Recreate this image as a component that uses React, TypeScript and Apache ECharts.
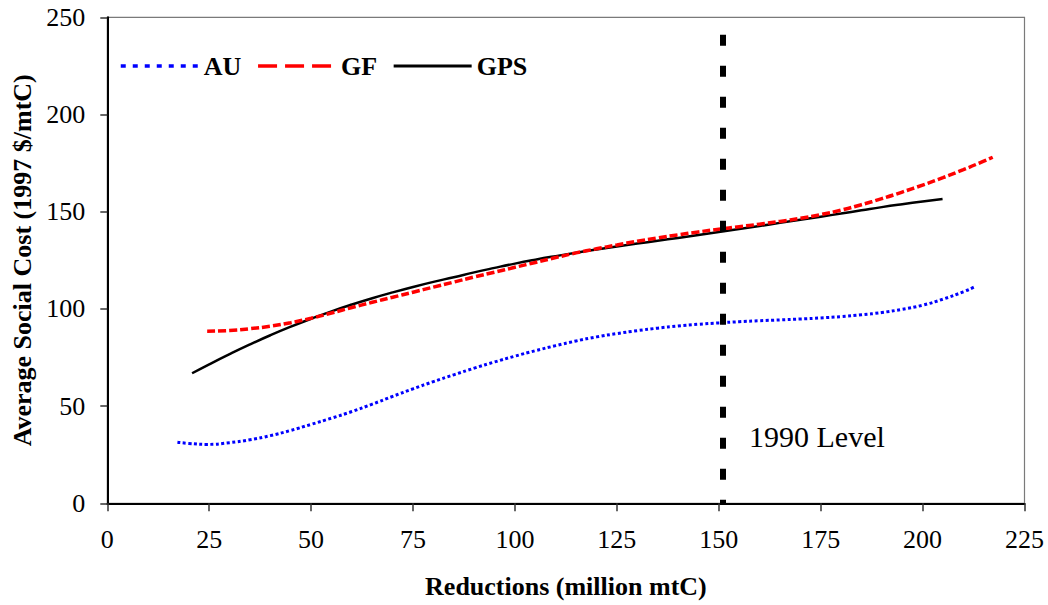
import React, { useEffect, useRef } from "react";
import * as echarts from "echarts";

const FONT = "'Liberation Serif', 'Times New Roman', serif";

const auX = [17.2, 20, 24.4, 30, 35, 40, 45, 50, 55, 60, 65, 70, 75, 80, 85, 90, 95, 100, 105, 110, 115, 120, 125, 130, 135, 140, 145, 150, 155, 160, 165, 170, 175, 180, 185, 190, 195, 200, 205, 210, 212.6];
const auY = [31.4, 30.8, 30.3, 31.2, 32.7, 34.8, 37.5, 40.6, 43.8, 47.2, 51.0, 55.0, 58.9, 62.6, 66.1, 69.5, 72.7, 75.7, 78.5, 81.1, 83.5, 85.6, 87.3, 88.8, 90.1, 91.2, 92.1, 92.8, 93.4, 93.9, 94.35, 94.8, 95.35, 96.05, 96.95, 98.15, 99.8, 101.9, 105.0, 108.8, 111.2];

const gfX = [24.5, 30, 35, 40, 45, 50, 55, 60, 65, 70, 75, 80, 85, 90, 95, 100, 105, 110, 115, 120, 125, 130, 135, 140, 145, 150, 155, 160, 165, 170, 175, 180, 185, 190, 195, 200, 205, 210, 215, 217.2];
const gfY = [88.5, 88.9, 89.8, 91.1, 92.9, 95.2, 97.9, 100.7, 103.4, 106.0, 108.6, 111.2, 113.8, 116.4, 118.9, 121.4, 123.9, 126.4, 128.8, 130.9, 132.9, 134.8, 136.5, 138.1, 139.6, 141.0, 142.3, 143.6, 145.0, 146.6, 148.5, 150.8, 153.6, 156.7, 160.1, 163.7, 167.5, 171.6, 176.0, 178.0];

const gpsX = [20.8, 25, 30, 35, 40, 45, 50, 55, 60, 65, 70, 75, 80, 85, 90, 95, 100, 105, 110, 115, 120, 125, 130, 135, 140, 145, 150, 155, 160, 165, 170, 175, 180, 185, 190, 195, 200, 204.9];
const gpsY = [66.9, 71.5, 76.75, 81.75, 86.45, 90.85, 94.95, 98.75, 102.25, 105.5, 108.5, 111.3, 113.9, 116.3, 118.8, 121.1, 123.3, 125.3, 127.15, 128.9, 130.55, 132.1, 133.6, 135.05, 136.5, 138.0, 139.55, 141.1, 142.65, 144.25, 145.85, 147.45, 149.05, 150.7, 152.35, 153.85, 155.25, 156.5];

const seriesNames = ["AU", "GF", "GPS"];
const level1990X = 151;
const level1990Top = 241;
const levelLabel = "1990 Level";
const levelLabelPos = [157.3, 34.6];

const xTitle = "Reductions (million mtC)";
const yTitle = "Average Social Cost (1997 $/mtC)";

const zip = (xs: number[], ys: number[]) => xs.map((x, i) => [x, ys[i]]);

export default function App() {
  const ref = useRef<HTMLDivElement>(null);
  useEffect(() => {
    if (!ref.current) return;
    const chart = echarts.init(ref.current, null, { renderer: "svg" });
    const axisLabel = { fontFamily: FONT, fontSize: 26, color: "#000" };
    const hidden = { color: "rgba(0,0,0,0)", borderColor: "rgba(0,0,0,0)", borderWidth: 0 };
    chart.setOption({
      animation: false,
      backgroundColor: "#fff",
      grid: {
        left: 107.3,
        right: 23.5,
        top: 17.3,
        bottom: 101.7,
        show: true,
        borderColor: "#7a7a7a",
        borderWidth: 1.2,
        outerBoundsMode: "none",
      },
      legend: {
        left: 119,
        top: 53,
        padding: 0,
        itemWidth: 78,
        itemHeight: 4,
        itemGap: 15,
        itemStyle: hidden,
        textStyle: { fontFamily: FONT, fontSize: 26, fontWeight: "bold", color: "#000" },
        data: [
          { name: "AU", itemStyle: hidden, lineStyle: { type: [5, 7], width: 3.5 } },
          { name: "GF", itemStyle: hidden, lineStyle: { type: [19, 8], width: 3.5 } },
          { name: "GPS", itemStyle: hidden, lineStyle: { width: 3 } },
        ],
      },
      xAxis: {
        type: "value",
        min: 0,
        max: 225,
        interval: 25,
        name: xTitle,
        nameLocation: "middle",
        nameGap: 70,
        nameTextStyle: { fontFamily: FONT, fontSize: 26, fontWeight: "bold", color: "#000" },
        axisLine: { lineStyle: { color: "#000", width: 2 } },
        axisTick: { show: true, length: 8, lineStyle: { color: "#333", width: 1.5 } },
        axisLabel: { ...axisLabel, margin: 23 },
        splitLine: { show: false },
      },
      yAxis: {
        type: "value",
        min: 0,
        max: 250,
        interval: 50,
        name: yTitle,
        nameLocation: "middle",
        nameGap: 70,
        nameTextStyle: { fontFamily: FONT, fontSize: 26, fontWeight: "bold", color: "#000" },
        axisLine: { show: true, lineStyle: { color: "#000", width: 2 } },
        axisTick: { show: true, length: 7, lineStyle: { color: "#333", width: 1.5 } },
        axisLabel: { ...axisLabel, margin: 22 },
        splitLine: { show: false },
      },
      series: [
        {
          name: seriesNames[0],
          type: "line",
          data: zip(auX, auY),
          smooth: true,
          symbol: "none",
          showSymbol: false,
          z: 2,
          lineStyle: { color: "#0000ff", width: 3, type: [3, 2.5] },
          itemStyle: { color: "#0000ff" },
          markLine: {
            silent: true,
            symbol: ["none", "none"],
            label: { show: false },
            lineStyle: { color: "#000", width: 6, type: [11, 20], cap: "butt" },
            data: [[{ coord: [level1990X, level1990Top] }, { coord: [level1990X, 0] }]],
          },
          markPoint: {
            silent: true,
            symbol: "rect",
            symbolSize: 1,
            itemStyle: { color: "rgba(0,0,0,0)" },
            label: {
              show: true,
              position: "right",
              distance: 0,
              formatter: levelLabel,
              fontFamily: FONT,
              fontSize: 30,
              color: "#000",
            },
            data: [{ coord: levelLabelPos }],
          },
        },
        {
          name: seriesNames[1],
          type: "line",
          data: zip(gfX, gfY),
          smooth: true,
          symbol: "none",
          showSymbol: false,
          z: 4,
          lineStyle: { color: "#ff0000", width: 3.5, type: [8, 3] },
          itemStyle: { color: "#ff0000" },
        },
        {
          name: seriesNames[2],
          type: "line",
          data: zip(gpsX, gpsY),
          smooth: true,
          symbol: "none",
          showSymbol: false,
          z: 3,
          lineStyle: { color: "#000", width: 2.5 },
          itemStyle: { color: "#000" },
        },
      ],
    });
    return () => chart.dispose();
  }, []);
  return (
    <div
      ref={ref}
      style={{ position: "fixed", left: 0, top: 0, width: 1048, height: 605, background: "#fff" }}
    />
  );
}
